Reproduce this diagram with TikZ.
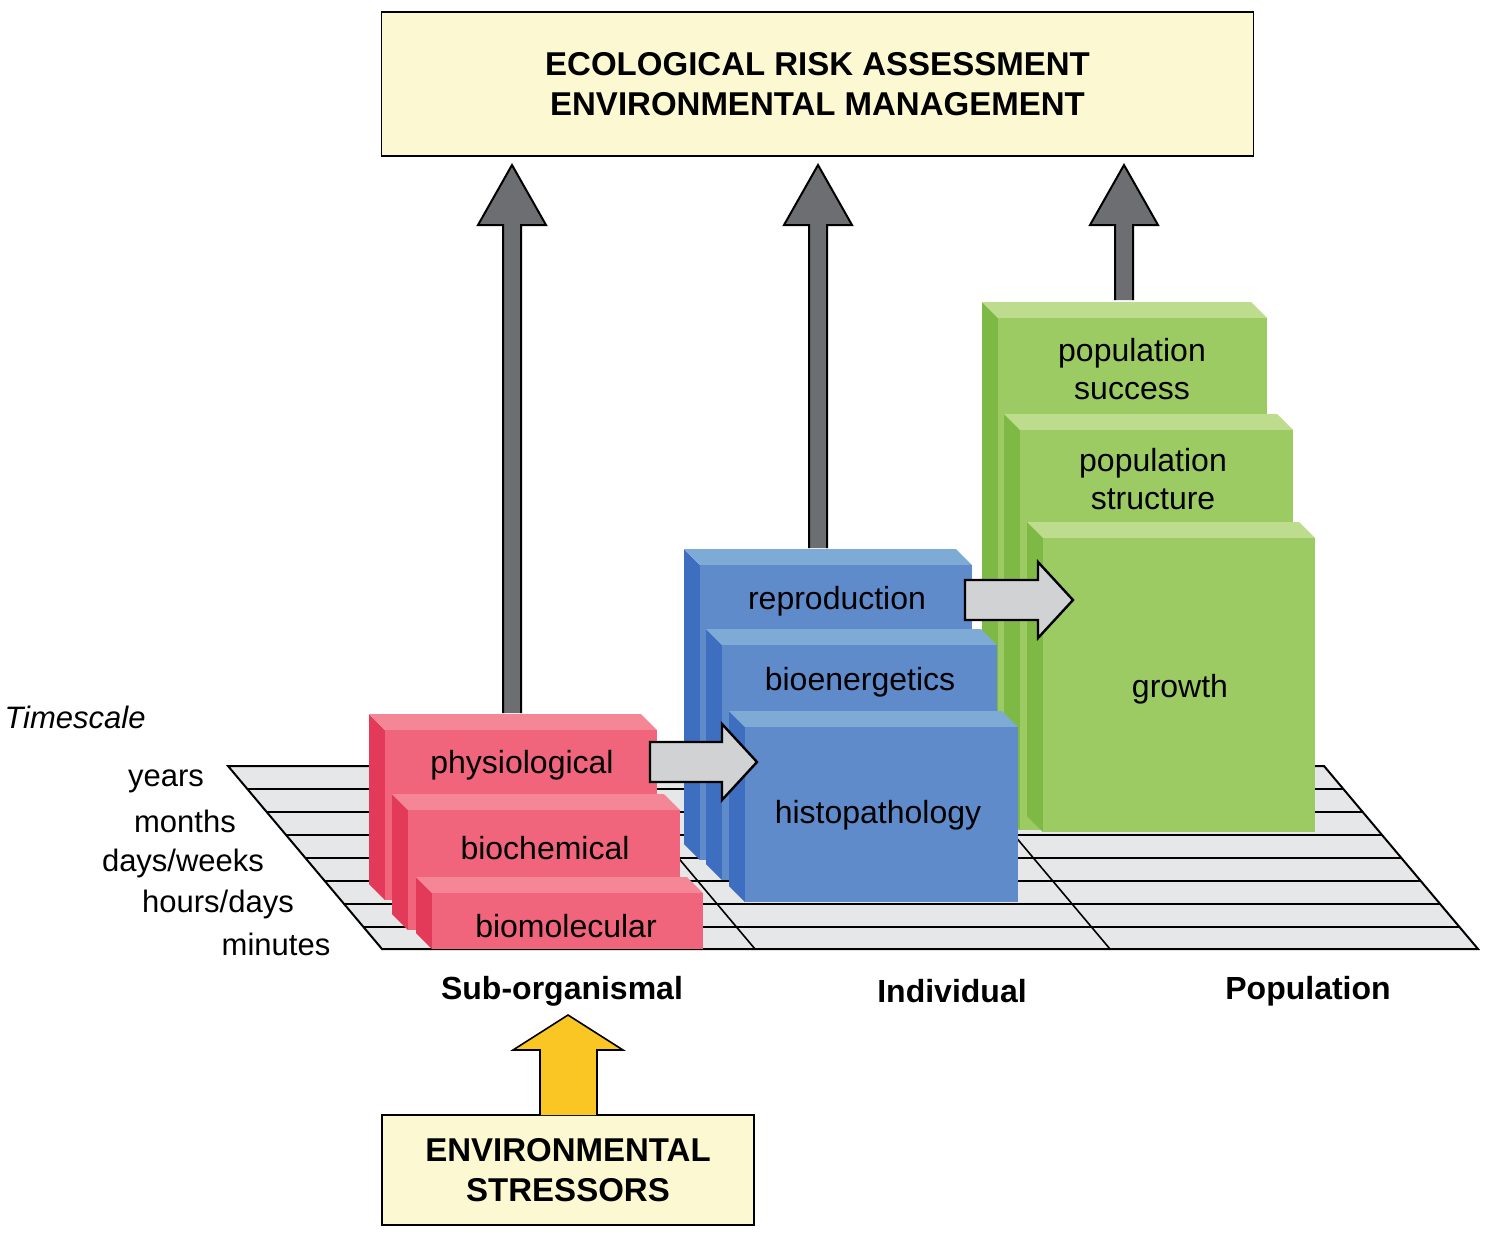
\documentclass[tikz,border=0pt]{standalone}
\usepackage{fontspec}
\setmainfont{Liberation Sans}
\definecolor{redF}{HTML}{F0647C}
\definecolor{redS}{HTML}{E23A58}
\definecolor{redT}{HTML}{F48696}
\definecolor{bluF}{HTML}{5F8BCB}
\definecolor{bluS}{HTML}{3E6EC0}
\definecolor{bluT}{HTML}{7EAAD6}
\definecolor{grnF}{HTML}{9CCB64}
\definecolor{grnS}{HTML}{7EB845}
\definecolor{grnT}{HTML}{BEDC8E}
\definecolor{paper}{HTML}{FCF9D2}
\definecolor{shaft}{HTML}{6D6E71}
\definecolor{floor}{HTML}{E6E7E8}
\definecolor{stress}{HTML}{F9C623}
% cube: front x1 y1 x2 y2, colours front side top
\newcommand{\cube}[7]{%
  \fill[#6] (#1,#2) -- (#1-16,#2-16) -- (#1-16,#4-16) -- (#1,#4) -- cycle;
  \fill[#7] (#1,#2) -- (#3,#2) -- (#3-16,#2-16) -- (#1-16,#2-16) -- cycle;
  \fill[#5] (#1,#2) rectangle (#3,#4);}
\newcommand{\uparr}[3]{% x, base y, tip y
  \filldraw[fill=shaft,draw=black,line width=1pt] (#1-9,#2) -- (#1-9,#3+60) -- (#1-34,#3+60)
    -- (#1,#3) -- (#1+34,#3+60) -- (#1+9,#3+60) -- (#1+9,#2);}
\newcommand{\rtarr}[3]{% x start, y mid, x tip
  \filldraw[fill=floor!80!gray,draw=black,line width=1.2pt] (#1,#2-20) -- (#3-35,#2-20) -- (#3-35,#2-38)
    -- (#3,#2) -- (#3-35,#2+38) -- (#3-35,#2+20) -- (#1,#2+20) -- cycle;}
\begin{document}
\begin{tikzpicture}[x=0.5pt,y=-0.5pt,
  lbl/.style={font=\fontsize{16}{19}\selectfont,align=center},
  scale lbl/.style={font=\fontsize{15.5}{18}\selectfont},
  level/.style={font=\fontsize{16}{19}\selectfont\bfseries},
  panel/.style={draw=black,line width=0.8pt,fill=paper,font=\fontsize{16.5}{20}\selectfont\bfseries,align=center}]
\useasboundingbox (0,0) rectangle (1488,1233);
% floor grid
\filldraw[fill=floor,draw=black,line width=1pt] (228,766) -- (1324,766) -- (1478,949) -- (382,949) -- cycle;
\foreach \y in {789,812,835,858,881,904,927} {
  \pgfmathsetmacro\xl{228+(\y-766)*0.842}
  \pgfmathsetmacro\xr{1324+(\y-766)*0.842}
  \draw[line width=0.8pt] (\xl,\y) -- (\xr,\y);}
\draw[line width=0.8pt] (601,766) -- (755,949);
\draw[line width=0.8pt] (956,766) -- (1110,949);
% arrows to top panel
\uparr{512}{713}{165}
\uparr{818}{548}{165}
\uparr{1124}{300}{165}
% population
\cube{998}{318}{1267}{830}{grnF}{grnS}{grnT}
\cube{1020}{430}{1293}{830}{grnF}{grnS}{grnT}
\cube{1043}{538}{1315}{832}{grnF}{grnS}{grnT}
% individual
\cube{700}{565}{972}{860}{bluF}{bluS}{bluT}
\cube{722}{645}{997}{880}{bluF}{bluS}{bluT}
\cube{745}{727}{1018}{902}{bluF}{bluS}{bluT}
% sub-organismal
\cube{385}{730}{657}{900}{redF}{redS}{redT}
\cube{408}{810}{680}{930}{redF}{redS}{redT}
\cube{432}{893}{703}{949}{redF}{redS}{redT}
\rtarr{650}{762}{757}
\rtarr{965}{600}{1073}
\node[lbl] (succ) at (1132,369) {population\\success};
\node[lbl] (struc) at (1153,479) {population\\structure};
\node[lbl] (growth) at (1180,689) {growth};
\node[lbl] (repro) at (837,601) {reproduction};
\node[lbl] (bioen) at (860,682) {bioenergetics};
\node[lbl] (histo) at (878,815) {histopathology};
\node[lbl] (physio) at (522,765) {physiological};
\node[lbl] (biochem) at (545,848) {biochemical};
\node[lbl] (biomol) at (566,926) {biomolecular};
% timescale
\node[scale lbl,font=\fontsize{15.5}{18}\selectfont\itshape] (ts) at (75,717) {Timescale};
\node[scale lbl] (yr) at (166,781) {years};
\node[scale lbl] (mo) at (185,821) {months};
\node[scale lbl] (dw) at (183,863) {days/weeks};
\node[scale lbl] (hd) at (218,904) {hours/days};
\node[scale lbl] (mi) at (276,944) {minutes};
\node[level] (sub) at (562,991) {Sub-organismal};
\node[level] (ind) at (952,991) {Individual};
\node[level] (pop) at (1308,991) {Population};
% panels
\node[panel,minimum width=436pt,minimum height=72pt] (era) at (817.5,84) {ECOLOGICAL RISK ASSESSMENT\\ENVIRONMENTAL MANAGEMENT};
\node[panel,minimum width=186pt,minimum height=55pt] (env) at (568,1170) {ENVIRONMENTAL\\STRESSORS};
\filldraw[fill=stress,draw=black,line width=0.8pt] (540,1115) -- (540,1050) -- (513,1050) -- (568,1015)
  -- (623,1050) -- (597,1050) -- (597,1115);
\end{tikzpicture}
\end{document}
